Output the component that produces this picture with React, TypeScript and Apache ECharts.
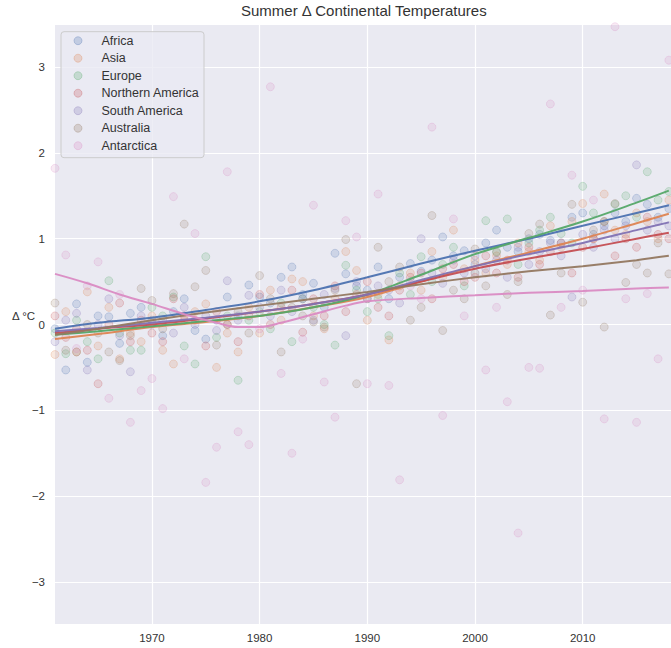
import React, { useEffect, useRef } from "react";
import * as echarts from "echarts";

const years = [
  1961, 1962, 1963, 1964, 1965, 1966, 1967, 1968, 1969, 1970,
  1971, 1972, 1973, 1974, 1975, 1976, 1977, 1978, 1979, 1980,
  1981, 1982, 1983, 1984, 1985, 1986, 1987, 1988, 1989, 1990,
  1991, 1992, 1993, 1994, 1995, 1996, 1997, 1998, 1999, 2000,
  2001, 2002, 2003, 2004, 2005, 2006, 2007, 2008, 2009, 2010,
  2011, 2012, 2013, 2014, 2015, 2016, 2017, 2018,
];

const continents = ["Africa", "Asia", "Europe", "Northern America", "South America", "Australia", "Antarctica"];
const colors = ["#4C72B0", "#DD8452", "#55A868", "#C44E52", "#8172B3", "#937860", "#DA8BC3"];

const africa = [
  -0.05, -0.53, 0.24, -0.44, 0.10, 0.09, -0.22, 0.13, 0.20, 0.05,
  -0.13, 0.15, 0.30, -0.07, -0.17, 0.05, 0.32, 0.10, 0.46, 0.32,
  0.25, 0.55, 0.67, 0.35, 0.48, 0.20, 0.83, 0.59, 0.45, 0.40,
  0.67, 0.30, 0.55, 0.71, 0.62, 0.75, 1.02, 0.80, 0.86, 0.70,
  0.95, 1.10, 0.90, 0.85, 1.00, 1.05, 0.98, 0.95, 1.25, 1.30,
  1.05, 1.15, 1.30, 1.20, 1.47, 1.40, 1.25, 1.35,
];
const asia = [
  -0.35, 0.15, -0.32, 0.38, -0.25, 0.20, -0.40, -0.10, -0.20, 0.10,
  -0.30, -0.46, 0.05, 0.15, 0.24, -0.50, -0.10, -0.32, 0.20, -0.10,
  0.40, 0.05, 0.53, 0.50, 0.10, -0.05, 0.30, 0.85, 0.63, 0.05,
  0.35, -0.18, 0.45, 0.60, 0.40, 0.85, 0.55, 1.10, 0.65, 0.75,
  0.60, 0.80, 0.70, 0.95, 0.85, 0.75, 1.15, 0.90, 1.20, 1.41,
  1.00, 1.52, 1.10, 1.05, 1.30, 1.20, 1.00, 1.45,
];
const europe = [
  -0.10, -0.34, 0.05, -0.20, -0.40, 0.51, -0.10, -0.30, -0.30, 0.20,
  0.10, 0.32, -0.25, -0.46, 0.79, -0.15, 0.10, -0.65, 0.05, 0.15,
  -0.05, 0.25, -0.20, 0.30, 0.20, 0.00, -0.24, 0.69, 0.40, 0.15,
  0.30, -0.13, 0.60, 0.35, 0.79, 0.50, 0.70, 0.90, 0.45, 0.60,
  1.21, 0.85, 1.23, 0.70, 0.95, 1.10, 1.25, 1.06, 0.95, 1.61,
  1.30, 1.20, 1.40, 1.50, 1.25, 1.78, 1.45, 1.55,
];
const northernAmerica = [
  0.10, -0.15, -0.05, -0.30, -0.69, 0.00, 0.25, -0.20, 0.05, -0.10,
  -0.20, 0.30, 0.10, 0.05, -0.25, 0.15, 0.00, -0.20, 0.10, 0.35,
  0.00, 0.20, 0.40, -0.09, 0.30, 0.10, 0.45, 0.15, 0.35, 0.50,
  0.20, 0.10, 0.40, 0.55, 0.60, 0.30, 0.65, 0.70, 0.50, 0.55,
  0.80, 0.60, 0.75, 0.55, 0.90, 0.70, 0.85, 0.95, 0.60, 0.90,
  1.00, 1.20, 0.80, 1.00, 0.90, 1.25, 1.05, 1.00,
];
const southAmerica = [
  -0.20, 0.05, 0.13, -0.53, 0.00, 0.30, -0.13, -0.55, 0.10, 0.00,
  0.05, -0.10, 0.20, 0.00, 0.10, -0.07, 0.51, 0.05, 0.34, 0.20,
  0.10, 0.40, 0.15, 0.30, 0.05, 0.35, 0.42, -0.13, 0.50, 0.30,
  0.45, 0.40, 0.25, 0.50, 1.00, 0.60, 0.48, 0.75, 0.60, 0.80,
  0.65, 0.75, 0.55, 0.90, 0.70, 0.85, 0.95, 0.80, 0.32, 1.05,
  0.90, 1.10, 1.00, 1.15, 1.86, 1.10, 1.20, 1.15,
];
const australia = [
  0.25, -0.30, -0.32, 0.00, -0.10, -0.32, -0.42, -0.13, 0.42, 0.28,
  -0.05, 0.36, 1.17, 0.44, 0.63, -0.24, 0.00, 0.15, -0.10, 0.57,
  0.30, -0.32, 0.20, 0.10, 0.03, -0.03, 0.40, 0.99, -0.69, 0.30,
  0.90, 0.50, 0.67, 0.05, 0.20, 1.27, -0.07, 0.40, 0.30, 0.88,
  0.45, 0.84, 0.35, 0.50, 1.06, 1.17, 0.11, 0.60, 1.40, 0.26,
  1.10, -0.03, 1.41, 0.49, 0.70, 0.60, 0.95, 0.59,
];
const antarctica = [
  1.82, 0.81, -0.28, 0.45, 0.73, -0.86, 0.35, -1.14, -0.77, -0.63,
  -0.98, 1.49, -0.40, 1.06, -1.84, -1.43, 1.78, -1.25, -1.40, -0.05,
  2.77, -0.57, -1.50, -0.17, 1.39, -0.67, -1.08, 1.21, 1.02, -0.69,
  1.52, -0.71, -1.81, 0.45, 0.30, 2.30, -1.06, 1.23, 0.10, 0.60,
  -0.53, 0.20, -0.90, -2.43, -0.50, -0.51, 2.57, 0.20, 1.74, 0.40,
  1.45, -1.10, 3.47, 0.30, -1.14, 0.36, -0.40, 3.08,
];
const pointValues = [africa, asia, europe, northernAmerica, southAmerica, australia, antarctica];

// smoothed (lowess) trend lines
const trendYears = [1961, 1965, 1970, 1975, 1980, 1985, 1990, 1995, 2000, 2005, 2010, 2015, 2018];
const trendAfrica = [-0.05, 0.02, 0.08, 0.17, 0.27, 0.40, 0.55, 0.71, 0.86, 1.00, 1.15, 1.30, 1.39];
const trendAsia = [-0.17, -0.11, -0.03, 0.03, 0.10, 0.20, 0.32, 0.50, 0.68, 0.84, 1.00, 1.18, 1.29];
const trendEurope = [-0.12, -0.08, -0.02, 0.04, 0.10, 0.20, 0.35, 0.58, 0.82, 1.01, 1.20, 1.42, 1.56];
const trendNorthernAmerica = [-0.10, -0.05, 0.00, 0.07, 0.15, 0.24, 0.35, 0.50, 0.65, 0.77, 0.88, 1.00, 1.07];
const trendSouthAmerica = [-0.08, -0.04, 0.02, 0.08, 0.15, 0.24, 0.35, 0.52, 0.68, 0.82, 0.95, 1.10, 1.19];
const trendAustralia = [-0.12, -0.05, 0.05, 0.14, 0.22, 0.30, 0.38, 0.47, 0.55, 0.62, 0.68, 0.75, 0.80];
const antarcticaTrendYears = [1961, 1964, 1967, 1970, 1973, 1976, 1978, 1980, 1982, 1985, 1988, 1990, 1995, 2000, 2005, 2010, 2015, 2018];
const trendAntarctica = [0.59, 0.48, 0.35, 0.24, 0.12, 0.02, -0.03, -0.03, 0.02, 0.12, 0.22, 0.27, 0.31, 0.34, 0.37, 0.39, 0.42, 0.43];
const trendValues = [trendAfrica, trendAsia, trendEurope, trendNorthernAmerica, trendSouthAmerica, trendAustralia, trendAntarctica];

const xTicks = [1970, 1980, 1990, 2000, 2010];
const yTicks = [-3, -2, -1, 0, 1, 2, 3];

const TITLE = "Summer \u0394 Continental Temperatures";
const Y_LABEL = "\u0394 \u00B0C";

function rgba(hex: string, a: number): string {
  const n = parseInt(hex.slice(1), 16);
  return `rgba(${(n >> 16) & 255},${(n >> 8) & 255},${n & 255},${a})`;
}

export default function App() {
  const ref = useRef<HTMLDivElement>(null);

  useEffect(() => {
    if (!ref.current) return;
    const chart = echarts.init(ref.current, null, { renderer: "svg" });
    const font = "'Liberation Sans', Arial, sans-serif";
    const textColor = "#333333";

    const scatterSeries = continents.map((name, i) => ({
      name,
      type: "scatter",
      data: years.map((y, k) => [y, pointValues[i][k]]),
      symbolSize: 8,
      itemStyle: {
        color: rgba(colors[i], 0.22),
        borderColor: rgba(colors[i], 0.3),
        borderWidth: 1,
      },
      z: 2,
      silent: true,
    }));

    const lineSeries = continents.map((name, i) => {
      const xs = i === 6 ? antarcticaTrendYears : trendYears;
      return {
        name: name + " trend",
        type: "line",
        data: xs.map((y, k) => [y, trendValues[i][k]]),
        smooth: 0.35,
        showSymbol: false,
        symbol: "none",
        lineStyle: { color: colors[i], width: 2, opacity: 0.95 },
        z: 3,
        silent: true,
      };
    });

    const legendTop = 31.7;
    const legendRowGap = 17.5;
    const legendGraphics: any[] = [
      {
        type: "rect",
        shape: { x: 61, y: legendTop, width: 143, height: 126, r: 3 },
        style: { fill: "rgba(234,234,242,0.8)", stroke: "#CCCCCC", lineWidth: 1 },
        z: 100,
      },
    ];
    continents.forEach((name, i) => {
      const cy = 40.7 + i * legendRowGap;
      legendGraphics.push({
        type: "circle",
        shape: { cx: 78, cy, r: 4 },
        style: { fill: rgba(colors[i], 0.25), stroke: rgba(colors[i], 0.3), lineWidth: 1 },
        z: 101,
      });
      legendGraphics.push({
        type: "text",
        x: 101.5,
        y: cy,
        style: {
          text: name,
          fill: textColor,
          font: `12.5px ${font}`,
          textVerticalAlign: "middle",
          verticalAlign: "middle",
        },
        z: 101,
      });
    });

    chart.setOption({
      animation: false,
      backgroundColor: "#FFFFFF",
      title: {
        text: TITLE,
        left: 241,
        top: 3,
        padding: 0,
        textStyle: { fontFamily: font, fontSize: 15, fontWeight: "normal", color: textColor },
      },
      grid: {
        left: 55,
        right: 0,
        top: 25,
        bottom: 24,
        show: true,
        backgroundColor: "#EAEAF2",
        borderWidth: 0,
        containLabel: false,
        outerBoundsMode: "none",
      },
      xAxis: {
        type: "value",
        min: 1961,
        max: 2018.2,
        axisLine: { show: false },
        axisTick: { show: false, customValues: xTicks },
        axisLabel: {
          customValues: xTicks,
          color: textColor,
          fontFamily: font,
          fontSize: 11.5,
          margin: 8,
          formatter: (v: number) => String(v),
        },
        splitLine: { show: true, lineStyle: { color: "#FFFFFF", width: 1.2 } },
      },
      yAxis: {
        type: "value",
        min: -3.49,
        max: 3.49,
        axisLine: { show: false },
        axisTick: { show: false, customValues: yTicks },
        axisLabel: {
          customValues: yTicks,
          color: textColor,
          fontFamily: font,
          fontSize: 11.5,
          margin: 10,
          formatter: (v: number) => (v < 0 ? "\u2212" + Math.abs(v) : String(v)),
        },
        splitLine: { show: true, lineStyle: { color: "#FFFFFF", width: 1.2 } },
      },
      graphic: [
        {
          type: "text",
          x: 12,
          y: 316,
          style: {
            text: Y_LABEL,
            fill: textColor,
            font: `11.5px ${font}`,
            textVerticalAlign: "middle",
            verticalAlign: "middle",
          },
          z: 100,
        },
        ...legendGraphics,
      ],
      series: [...scatterSeries, ...lineSeries],
    });

    return () => chart.dispose();
  }, []);

  return (
    <div
      ref={ref}
      style={{ position: "fixed", left: 0, top: 0, width: 671, height: 648, background: "#fff" }}
    />
  );
}
